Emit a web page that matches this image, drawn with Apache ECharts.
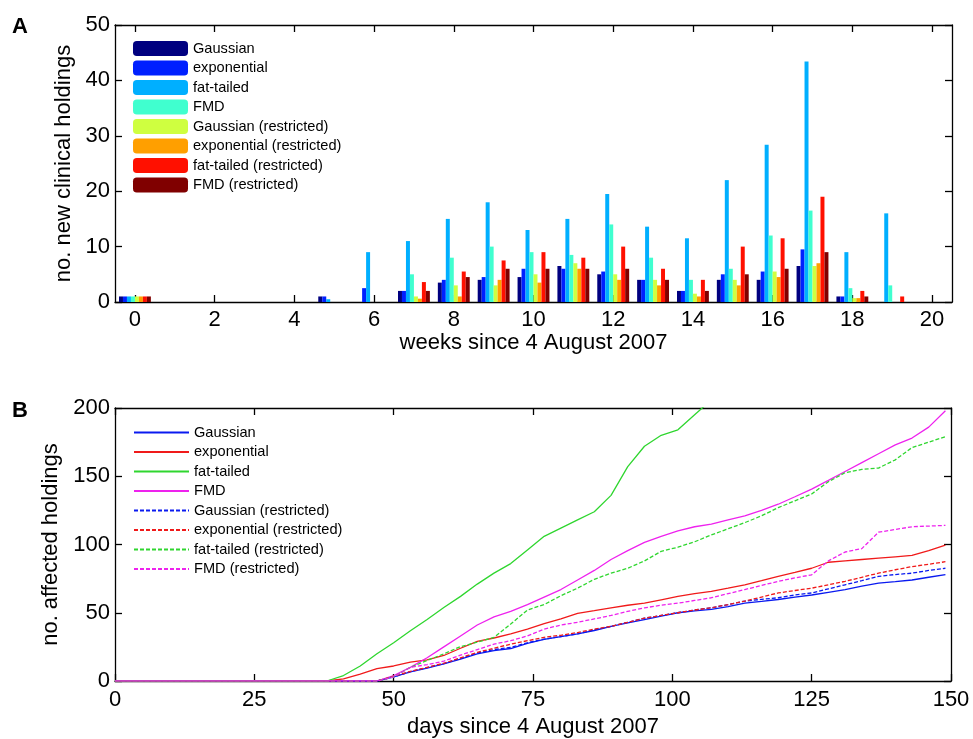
<!DOCTYPE html>
<html>
<head>
<meta charset="utf-8">
<script src="https://cdn.jsdelivr.net/npm/echarts@6/dist/echarts.min.js"></script>
<style>
html,body{margin:0;padding:0;background:#fff;}
#chart{width:973px;height:739px;}
</style>
</head>
<body>
<div id="chart"></div>
<script>
// ---------- Panel A: weekly new clinical holdings ----------
const weeks = ['0','1','2','3','4','5','6','7','8','9','10','11','12','13','14','15','16','17','18','19','20'];
const barNames = ['Gaussian','exponential','fat-tailed','FMD','Gaussian (restricted)','exponential (restricted)','fat-tailed (restricted)','FMD (restricted)'];
const barColors = ['#000080','#0020ff','#00afff','#40ffcf','#cfff40','#ff9f00','#ff1000','#800000'];
//                 0  1  2  3  4  5    6    7    8    9    10   11   12   13   14   15   16   17   18   19  20
const wkGaussian   = [1, 0, 0, 0, 0, 1,   0,   2,   3.5, 4,   4.5, 6.5, 5,   4,   2,   4,   4,   6.5, 1,   0,  0];
const wkExp        = [1, 0, 0, 0, 0, 1,   2.5, 2,   4,   4.5, 6,   6,   5.5, 4,   2,   5,   5.5, 9.5, 1,   0,  0];
const wkFat        = [1, 0, 0, 0, 0, 0.5, 9,   11,  15,  18,  13,  15,  19.5,13.6,11.5,22,  28.4,43.4,9,   16, 0];
const wkFMD        = [1, 0, 0, 0, 0, 0,   0,   5,   8,   10,  9,   8.5, 14,  8,   4,   6,   12,  16.5,2.5, 3,  0];
const wkGaussianR  = [1, 0, 0, 0, 0, 0,   0,   1,   3,   3,   5,   7,   5,   4,   1.5, 4,   5.5, 6.5, 0.7, 0,  0];
const wkExpR       = [1, 0, 0, 0, 0, 0,   0,   0.6, 1,   4,   3.5, 6,   4,   3,   1,   3,   4.5, 7,   0.7, 0,  0];
const wkFatR       = [1, 0, 0, 0, 0, 0,   0,   3.6, 5.5, 7.5, 9,   8,   10,  6,   4,   10,  11.5,19,  2,   1,  0];
const wkFMDR       = [1, 0, 0, 0, 0, 0,   0,   2,   4.5, 6,   6,   6,   6,   4,   2,   5,   6,   9,   1,   0,  0];
const weeklySeries = [wkGaussian, wkExp, wkFat, wkFMD, wkGaussianR, wkExpR, wkFatR, wkFMDR];

// ---------- Panel B: cumulative affected holdings ----------
const days = [0,38,41,44,47,50,53,56,59,62,65,68,71,74,77,80,83,86,89,92,95,98,101,104,107,110,113,116,119,122,125,128,131,134,137,140,143,146,149];
const cumGaussian  = [0,0,0,0,0,3,6.6,9.5,12.6,16,19.9,22.3,23.8,27.5,30.5,32.5,34.5,37,40,42.5,45,47.5,50,51.3,52.4,54.5,57,58.3,59.7,61.5,63,65,67,69.5,71.7,72.8,74,76,78];
const cumExp       = [0,0,1.5,5,9,11,13.8,15.5,18.7,24,29,31.5,34.5,38,42,45.5,49.5,51.5,53.6,55.5,57,59.5,62,64,65.7,68,70.5,73.5,76.6,79.5,82.6,87,88,89,90,91,92,95.5,99.5];
const cumFat       = [0,0,4,11,20,28,36.8,45,53.8,62,71,79,86,96,106,112,118,124,136,157,172,180,184,195,206,'-','-','-','-','-','-','-','-','-','-','-','-','-','-'];
const cumFMD       = [0,0,0,0,0,4,10,17,25,33,41,47,51,56,61.5,67,74,81,89,95.5,101.5,106,110,113,115,118,121,125,129.5,135,140.6,147,153.5,160,166.5,173,178,186,198];
const cumGaussianR = [0,0,0,0,0,3,6.8,9.8,12.8,16.5,20.5,23,24.6,28,30.7,32.5,34.5,37.5,40,43,46,48,50,52,53.6,56,58.5,59.8,61,63,64.5,67.5,70.5,73.5,76.6,78,79,81,82.6];
const cumExpR      = [0,0,0,0,0,3.5,7,10,13,17,21,24,27,29.5,32,33.5,35.5,38,40,43,46,48,50,52,53.6,56,58.5,61.5,64.5,66.3,68,70.5,73,76,79,81.5,83.8,85.5,87.4];
const cumFatR      = [0,0,0,0,0,3,10,15,19.9,25.2,28.4,32,41.7,52,56,62.5,68,74.5,79,82.6,88,95,98,102,107,111.5,116,121,127,132,137,146,152.6,155,156,162,171,175,179];
const cumFMDR      = [0,0,0,0,0,3,10,12,14.5,19,23,27,29.5,33,38,41,43,45.5,48,51,53.6,55.5,57,59,61,64,67,70,73,75.5,77.8,88,94.5,97,109,111,113,113.5,114];
const cumSeries = [cumGaussian, cumExp, cumFat, cumFMD, cumGaussianR, cumExpR, cumFatR, cumFMDR];
const lineColors = ['#0a1af0','#f01a1a','#2fd62f','#ee22ee','#0a1af0','#f01a1a','#2fd62f','#ee22ee'];
const lineDashed = [false,false,false,false,true,true,true,true];

const FONT = "'Liberation Sans', Arial, Helvetica, sans-serif";
const axisLine = {show:true, onZero:false, lineStyle:{color:'#000', width:1.3}};
const tickIn = (extra) => Object.assign({show:true, inside:true, length:7, lineStyle:{color:'#000', width:1.3}}, extra||{});
const lbl = (extra) => Object.assign({color:'#000', fontSize:22, fontFamily:FONT}, extra||{});
const nameStyle = {color:'#000', fontSize:22, fontFamily:FONT};

const series = [];
weeklySeries.forEach((vals, i) => {
  series.push({
    name: barNames[i] + '|A', type:'bar', xAxisIndex:0, yAxisIndex:0,
    data: vals, barGap:'0%', barCategoryGap:'20%',
    itemStyle:{color:barColors[i]}, animation:false
  });
});
cumSeries.forEach((vals, i) => {
  series.push({
    name: barNames[i] + '|B', type:'line', xAxisIndex:2, yAxisIndex:2,
    data: days.map((d, j) => [d, vals[j]]),
    symbol:'none', clip:true, animation:false,
    lineStyle:{color:lineColors[i], width:1.3, type: lineDashed[i] ? [4,2] : 'solid'},
    itemStyle:{color:lineColors[i]}
  });
});

const option = {
  backgroundColor:'#fff',
  animation:false,
  textStyle:{fontFamily:FONT},
  grid:[
    {left:115, right:21, top:25, height:277},
    {left:115, right:22, top:408, height:276}
  ],
  legend:[
    {data: barNames.map(n => n + '|A'), orient:'vertical', left:133, top:41, padding:0,
     itemWidth:55, itemHeight:15, itemGap:4.5, formatter: n => n.split('|')[0],
     textStyle:{color:'#000', fontSize:14.6, fontFamily:FONT}, selectedMode:false},
    {data: barNames.map(n => n + '|B'), orient:'vertical', left:133, top:425, padding:0,
     itemWidth:55, itemHeight:15, itemGap:4.5, formatter: n => n.split('|')[0],
     itemStyle:{opacity:0},
     textStyle:{color:'#000', fontSize:14.6, fontFamily:FONT}, selectedMode:false}
  ],
  xAxis:[
    {type:'category', gridIndex:0, data:weeks, boundaryGap:true, position:'bottom',
     axisLine:axisLine, axisTick:tickIn({alignWithLabel:true, interval:1}),
     axisLabel:lbl({interval:1, margin:7}),
     name:'weeks since 4 August 2007', nameLocation:'middle', nameGap:30, nameTextStyle:nameStyle},
    {type:'category', gridIndex:0, data:weeks, boundaryGap:true, position:'top',
     axisLine:axisLine, axisTick:tickIn({alignWithLabel:true, interval:1}),
     axisLabel:{show:false}},
    {type:'value', gridIndex:1, min:0, max:150, interval:25, position:'bottom',
     axisLine:axisLine, axisTick:tickIn(), splitLine:{show:false},
     axisLabel:lbl({margin:8}),
     name:'days since 4 August 2007', nameLocation:'middle', nameGap:35, nameTextStyle:nameStyle},
    {type:'value', gridIndex:1, min:0, max:150, interval:25, position:'top',
     axisLine:axisLine, axisTick:tickIn(), splitLine:{show:false}, axisLabel:{show:false}}
  ],
  yAxis:[
    {type:'value', gridIndex:0, min:0, max:50, interval:10, position:'left',
     axisLine:axisLine, axisTick:tickIn(), splitLine:{show:false},
     axisLabel:lbl({margin:5}),
     name:'no. new clinical holdings', nameLocation:'middle', nameGap:40, nameTextStyle:nameStyle},
    {type:'value', gridIndex:0, min:0, max:50, interval:10, position:'right',
     axisLine:axisLine, axisTick:tickIn(), splitLine:{show:false}, axisLabel:{show:false}},
    {type:'value', gridIndex:1, min:0, max:200, interval:50, position:'left',
     axisLine:axisLine, axisTick:tickIn(), splitLine:{show:false},
     axisLabel:lbl({margin:5}),
     name:'no. affected holdings', nameLocation:'middle', nameGap:52, nameTextStyle:nameStyle},
    {type:'value', gridIndex:1, min:0, max:200, interval:50, position:'right',
     axisLine:axisLine, axisTick:tickIn(), splitLine:{show:false}, axisLabel:{show:false}}
  ],
  graphic:[
    {type:'text', left:12, top:16, style:{text:'A', fontSize:22, fontWeight:'bold', fill:'#000', fontFamily:FONT}},
    {type:'text', left:12, top:400, style:{text:'B', fontSize:22, fontWeight:'bold', fill:'#000', fontFamily:FONT}}
  ],
  series: series
};

const chart = echarts.init(document.getElementById('chart'), null, {renderer:'canvas'});
chart.setOption(option);
</script>
</body>
</html>
